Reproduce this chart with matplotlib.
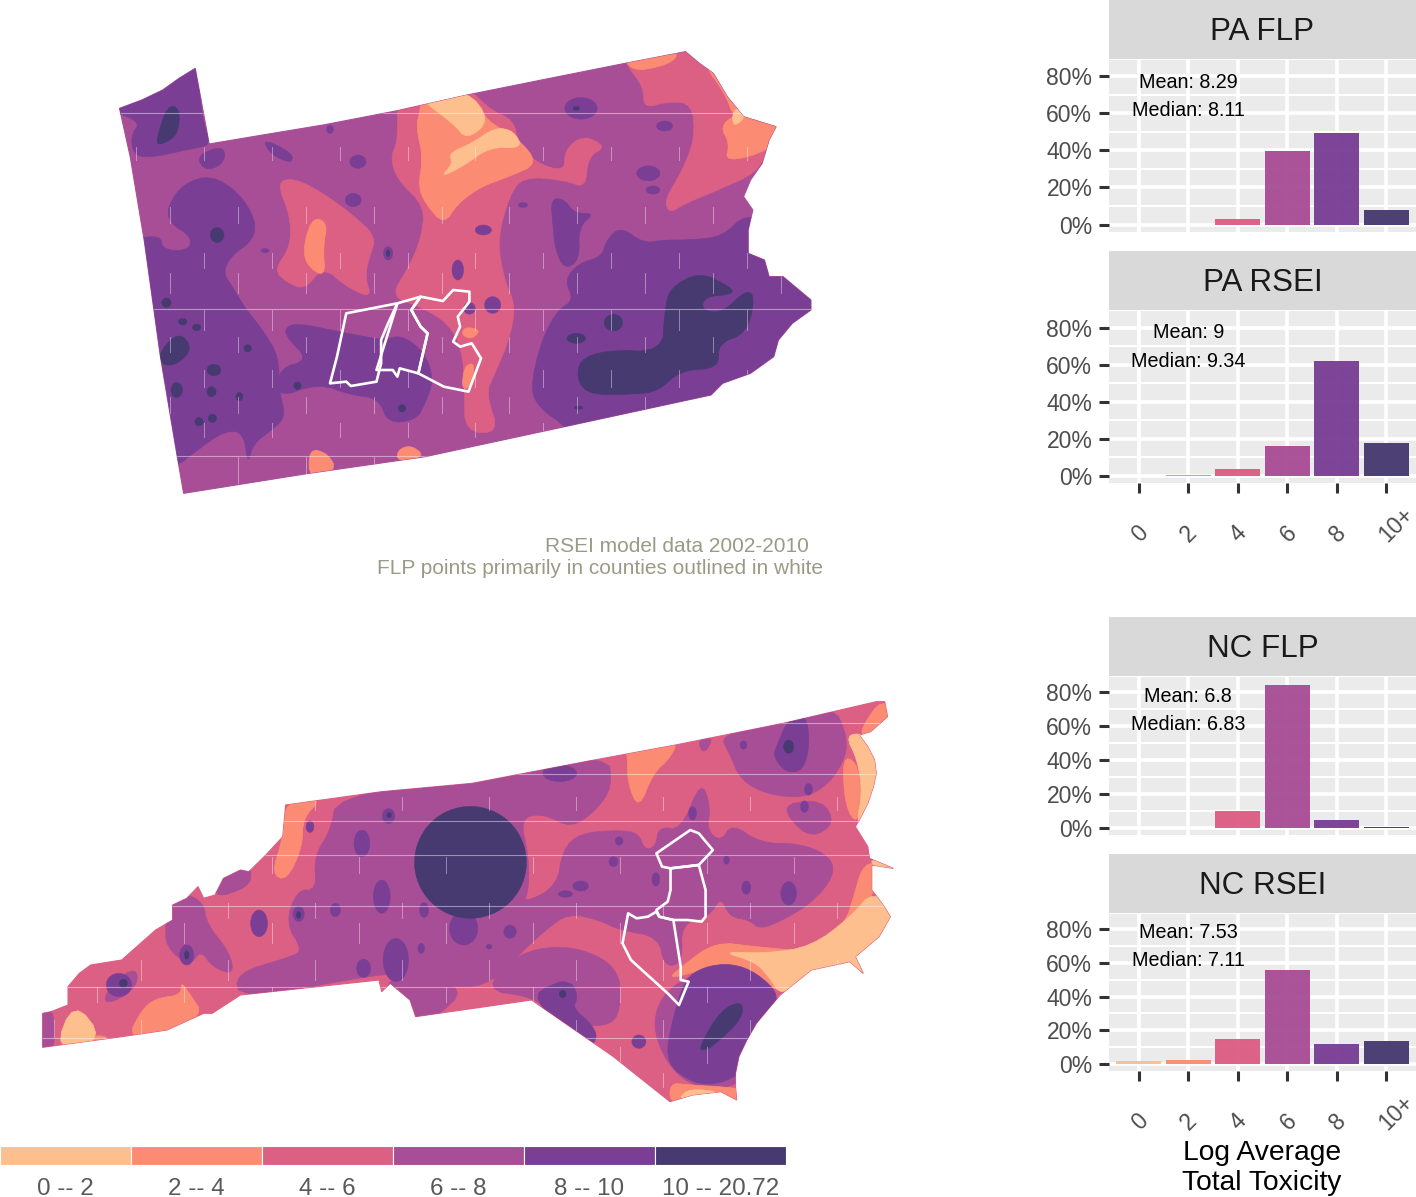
import matplotlib
matplotlib.use("Agg")
import matplotlib.pyplot as plt
from matplotlib.patches import Polygon, Ellipse

plt.rcParams["font.family"] = ["Liberation Sans", "DejaVu Sans"]

W = 1416
H = 1197

# colours of the six classes
c0 = "#FDBF8D"
c2 = "#FB8C73"
c4 = "#DC5F84"
c6 = "#A84E96"
c8 = "#7A3F95"
c10 = "#473A71"
class_colors = [c0, c2, c4, c6, c8, c10]
class_labels = ["0 -- 2", "2 -- 4", "4 -- 6", "6 -- 8", "8 -- 10", "10 -- 20.72"]

# histogram data
bin_labels = ["0", "2", "4", "6", "8", "10+"]
pa_flp = [0, 0, 3.2, 39.5, 49.5, 8]
pa_rsei = [0, 0.4, 4, 16, 62, 18]
nc_flp = [0, 0.2, 10, 84, 5, 0.5]
nc_rsei = [1.5, 2.5, 15, 56, 12, 13.5]
y_ticks = [0, 20, 40, 60, 80]
y_labels = ["0%", "20%", "40%", "60%", "80%"]

# map shapes, in map units
pa_outline = [(42,205),(90,180),(135,150),(170,115),(205,85),(235,312),(350,285),(480,255),(640,212),(790,165),(950,120),(1130,70),(1260,35),(1290,70),(1320,100),(1350,170),(1385,230),(1420,245),(1455,260),(1440,300),(1425,370),(1400,420),(1385,470),(1405,510),(1395,570),(1395,640),(1430,660),(1440,710),(1470,710),(1500,745),(1530,780),(1530,810),(1490,850),(1460,900),(1450,950),(1400,1000),(1340,1030),(1315,1065),(1000,1160),(700,1250),(450,1300),(180,1360),(165,1240),(130,950),(95,600),(65,350)]

pa_c4 = [
    [(1130,70),(1130,10),(1300,-10),(1500,200),(1500,340),(1430,350),(1410,400),(1330,450),(1260,490),(1225,520),(1215,480),(1250,400),(1280,300),(1275,190),(1220,185),(1170,205),(1170,140)],
    [(640,215),(640,150),(790,140),(840,210),(890,240),(900,310),(940,370),(1000,395),(1000,330),(1040,285),(1090,320),(1050,350),(1045,445),(1000,420),(910,410),(880,470),(855,600),(870,720),(895,800),(880,900),(850,1000),(830,1060),(860,1180),(785,1175),(785,1055),(780,930),(750,850),(690,800),(625,770),(665,680),(690,600),(700,500),(640,420),(625,350),(640,310)],
    [(380,425),(420,415),(480,460),(540,520),(595,590),(580,650),(570,710),(585,775),(530,740),(480,680),(440,750),(400,725),(375,690),(410,620),(410,530)],
]
pa_c2 = [
    [(690,205),(690,170),(790,150),(830,235),(860,265),(895,290),(945,370),(880,410),(820,440),(770,490),(740,555),(700,490),(685,440),(695,350),(680,260)],
    [(1130,70),(1130,30),(1240,20),(1240,65),(1160,95)],
    [(1335,260),(1365,225),(1400,230),(1480,250),(1445,330),(1345,368),(1355,310)],
    [(1300,75),(1330,85),(1360,170),(1395,230),(1365,235),(1345,160)],
    [(460,530),(490,550),(480,620),(485,715),(440,670),(440,600)],
    [(450,1225),(490,1240),(510,1290),(450,1320)],
    [(640,1230),(670,1215),(700,1250),(640,1265)],
    [(785,860),(820,870),(800,898),(778,885)],
    [(785,975),(808,970),(795,1045),(778,1045)],
]
pa_c0 = [
    [(700,190),(700,170),(790,150),(840,240),(790,300),(760,250)],
    [(750,340),(800,310),(850,262),(890,272),(910,325),(840,320),(780,380),(732,412),(760,370)],
    [(1360,230),(1370,200),(1390,230),(1365,260)],
]
pa_c8 = [
    [(-20,200),(60,100),(210,40),(218,230),(240,315),(200,325),(120,350),(75,350),(65,290),(90,240)],
    [(145,500),(180,430),(240,405),(300,460),(335,540),(330,600),(280,650),(265,700),(285,740),(310,800),(350,870),(385,950),(385,1050),(400,1130),(370,1170),(330,1210),(318,1275),(310,1180),(270,1170),(200,1240),(165,1280),(80,1280),(60,600),(130,585),(135,630),(190,632),(198,590),(150,550)],
    [(400,860),(430,850),(530,880),(610,900),(650,885),(700,940),(718,1020),(700,1090),(680,1140),(620,1150),(600,1075),(540,1065),(470,1030),(380,1075),(385,985),(450,960),(400,890)],
    [(1090,600),(1120,560),(1170,610),(1210,600),(1270,600),(1340,590),(1390,520),(1450,560),(1620,700),(1620,900),(1500,1100),(1300,1150),(1010,1200),(1000,1155),(950,1110),(925,1050),(950,900),(985,810),(1020,780),(1000,720),(1030,670),(1080,650)],
    [(970,475),(1000,478),(1020,520),(1065,520),(1030,560),(1032,660),(1000,688),(980,630),(975,560)],
    [(350,295),(415,340),(412,372),(365,340)],
    [(205,350),(265,315),(270,365),(230,395)],
]
pa_c10 = [
    [(1030,960),(1090,930),(1210,935),(1215,820),(1225,745),(1290,695),(1355,740),(1365,762),(1300,770),(1295,812),(1340,818),(1390,750),(1410,770),(1392,880),(1330,910),(1332,985),(1250,990),(1200,1055),(1150,1062),(1060,1065),(1028,1030)],
    [(120,305),(145,195),(172,205),(168,285),(130,315)],
    [(128,935),(170,875),(200,925),(165,975),(132,975)],
]
pa_spots_c8 = [(555,365,35,40),(545,480,35,40),(1215,258,35,30),(1180,400,50,45),(1190,450,30,25),(620,640,20,40),(825,570,35,30),(770,690,25,60),(845,795,35,50),(795,805,25,35),(910,495,20,15),(495,268,15,25),(355,632,18,12),(1035,205,70,65)]
pa_spots_c10 = [(252,585,30,45),(245,990,30,35),(165,1050,25,45),(240,1055,20,30),(300,1070,15,25),(213,1145,18,25),(242,1135,18,25),(318,925,16,22),(178,845,18,20),(208,862,18,20),(143,788,20,28),(425,1037,16,22),(650,1105,16,22),(1105,848,40,50),(1025,895,40,30),(1030,1103,18,10),(1025,205,14,12),(620,640,8,20)]
pa_counties = [
    [(530,820),(640,790),(620,850),(605,900),(605,970),(595,1025),(540,1038),(530,1025),(495,1030),(510,950)],
    [(640,790),(690,770),(670,810),(690,860),(705,880),(685,1000),(645,985),(640,1010),(630,990),(595,990)],
    [(690,770),(738,783),(760,750),(795,755),(795,785),(770,830),(775,860),(760,905),(775,920),(800,910),(820,955),(793,1055),(740,1040),(685,1000),(705,880),(690,860),(670,810)],
]
pa_seams_h = [220, 808, 1248]

nc_outline = [(40,970),(55,965),(85,945),(85,890),(105,850),(125,825),(180,810),(240,720),(270,690),(270,645),(295,625),(315,590),(325,625),(345,615),(360,565),(390,540),(405,545),(435,495),(465,440),(470,345),(640,305),(800,280),(1000,215),(1160,165),(1350,100),(1515,35),(1530,35),(1535,80),(1505,125),(1485,135),(1500,170),(1512,210),(1515,250),(1510,290),(1500,340),(1485,390),(1478,410),(1500,470),(1503,505),(1545,535),(1507,525),(1507,600),(1525,640),(1540,680),(1520,740),(1478,800),(1492,850),(1468,815),(1400,840),(1345,915),(1325,955),(1303,1000),(1286,1050),(1272,1100),(1266,1150),(1266,1190),(1268,1230),(1240,1205),(1190,1215),(1150,1235),(1050,1100),(905,930),(700,980),(690,930),(655,880),(640,905),(635,870),(390,915),(340,970),(325,970),(260,1020),(180,1040),(40,1072)]

nc_c6 = [
    [(560,320),(800,260),(1040,190),(1048,290),(1020,360),(975,415),(925,370),(885,385),(900,500),(900,600),(890,640),(950,590),(960,480),(990,430),(1060,420),(1095,430),(1105,480),(1125,470),(1130,410),(1170,420),(1205,270),(1222,350),(1215,420),(1240,455),(1260,400),(1310,460),(1380,460),(1435,500),(1440,560),(1400,640),(1350,690),(1310,718),(1290,690),(1255,680),(1240,620),(1220,680),(1170,700),(1172,820),(1140,830),(1130,740),(1060,720),(1025,690),(970,670),(930,720),(885,790),(850,860),(790,900),(700,860),(660,860),(640,850),(390,930),(380,850),(480,800),(500,780),(470,700),(490,600),(525,600),(520,500),(550,420)],
    [(640,880),(700,850),(790,895),(735,985),(695,1000),(680,930)],
    [(820,900),(880,790),(960,765),(1030,800),(1062,860),(1062,950),(1050,1000),(1010,1010),(950,975),(905,920)],
    [(350,570),(400,525),(410,545),(405,590),(345,625)],
    [(260,645),(295,610),(325,640),(330,700),(372,790),(378,855),(340,830),(320,780),(300,830),(258,770),(258,700)],
    [(145,930),(175,860),(207,835),(207,890),(165,938)],
    [(1238,135),(1350,85),(1440,50),(1462,130),(1462,200),(1430,285),(1385,325),(1320,312),(1275,270),(1255,190)],
    [(1355,340),(1420,330),(1442,400),(1400,445),(1360,385)],
    [(1198,150),(1228,140),(1210,195)],
    [(1117,1000),(1145,890),(1235,825),(1295,835),(1347,920),(1315,1000),(1285,1100),(1275,1190),(1195,1195),(1145,1125)],
    [(25,950),(60,950),(62,1090),(25,1090)],
]
nc_c8 = [
    [(1153,1000),(1175,870),(1210,830),(1260,820),(1305,850),(1347,920),(1315,1000),(1285,1100),(1273,1158),(1215,1190),(1165,1155),(1143,1100)],
    [(905,925),(940,880),(985,878),(975,950),(1010,1000),(1022,1040),(1010,1070),(980,1040)],
    [(1338,170),(1360,85),(1392,75),(1397,170),(1385,242),(1355,248),(1333,200)],
]
nc_c2 = [
    [(470,330),(535,325),(500,385),(500,470),(472,572),(445,552),(465,445)],
    [(1075,195),(1070,170),(1165,150),(1150,205),(1120,250),(1095,358),(1075,280)],
    [(190,1045),(215,960),(240,925),(285,915),(285,875),(300,910),(325,975),(260,1030)],
    [(1145,870),(1170,830),(1230,755),(1300,770),(1400,785),(1460,700),(1475,620),(1490,530),(1515,515),(1515,600),(1480,680),(1420,770),(1347,925),(1295,835),(1235,825)],
    [(1455,200),(1480,215),(1488,300),(1482,405),(1460,350)],
    [(1490,110),(1525,25),(1550,80),(1510,135),(1490,138)],
    [(1150,1240),(1150,1178),(1185,1185),(1240,1190),(1280,1198),(1280,1240),(1240,1210),(1185,1225)],
    [(100,1045),(140,1035),(160,1045),(100,1060)],
]
nc_c0 = [
    [(1240,785),(1320,790),(1400,770),(1470,680),(1510,600),(1560,680),(1530,745),(1485,800),(1500,855),(1470,825),(1400,850),(1347,920),(1325,860),(1300,815)],
    [(1460,135),(1495,130),(1525,210),(1525,290),(1495,395),(1480,402),(1490,310),(1482,210)],
    [(1505,505),(1560,538),(1510,530)],
    [(60,1085),(95,930),(150,1050)],
    [(1165,1225),(1185,1195),(1245,1208),(1185,1225)],
]
nc_c2_spots = [(1435,790,35,55),(1338,820,18,45),(1490,672,20,40)]
nc_spots_c8 = [(605,460,28,80),(640,620,30,100),(652,378,22,45),(513,410,14,35),(493,672,20,45),(558,660,18,40),(715,660,16,45),(867,725,22,40),(785,715,50,100),(710,775,12,30),(608,835,25,55),(665,810,45,130),(965,612,25,20),(992,588,28,30),(1050,515,16,30),(1060,453,14,25),(1125,568,14,40),(1190,370,14,40),(1285,593,16,40),(1360,610,28,70),(1250,510,10,25),(1280,165,12,25),(1395,298,14,35),(1388,350,14,35),(423,700,30,80),(295,795,25,60),(175,885,45,70),(955,250,60,50),(830,770,10,15),(1095,1055,25,40),(960,920,50,90)]
nc_spots_c10 = [(797,517,198,336),(1360,170,18,40),(653,375,8,15),(493,675,8,20),(295,795,8,25),(183,880,14,25),(960,912,12,22)]
nc_c10 = [[(1200,1075),(1240,960),(1278,932),(1278,985),(1235,1055),(1213,1082)]]
nc_counties = [
    [(1126,490),(1186,420),(1201,430),(1226,480),(1201,525),(1151,535),(1136,530)],
    [(1151,535),(1201,525),(1213,600),(1213,680),(1206,695),(1181,690),(1156,690),(1131,680),(1126,660),(1146,635),(1151,600)],
    [(1126,665),(1131,680),(1156,690),(1169,830),(1169,870),(1183,875),(1166,945),(1146,910),(1081,810),(1066,760),(1076,670),(1091,685),(1111,680)],
]
nc_seams_h = [100, 252, 393, 496, 648, 892, 1045]


def smooth(points, rounds=2):
    # corner cutting, so the contour bands do not look like straight pieces
    for _ in range(rounds):
        new = []
        for i in range(len(points)):
            x0, y0 = points[i]
            x1, y1 = points[(i + 1) % len(points)]
            new.append((0.75 * x0 + 0.25 * x1, 0.75 * y0 + 0.25 * y1))
            new.append((0.25 * x0 + 0.75 * x1, 0.25 * y0 + 0.75 * y1))
        points = new
    return points


def px_axes(fig, left, top, right, bottom):
    return fig.add_axes([left / W, 1 - bottom / H, (right - left) / W, (bottom - top) / H])


def draw_map(ax, outline, layers, counties, seams_h, seam_xs, base):
    clip = Polygon(outline, closed=True, fc=base, ec=base, lw=0.8)
    ax.add_patch(clip)
    for color, polys, spots in layers:
        for p in polys:
            patch = Polygon(smooth(p), closed=True, fc=color, ec=color, lw=0.5)
            ax.add_patch(patch)
            patch.set_clip_path(clip)
        for cx, cy, w, h in spots:
            patch = Ellipse((cx, cy), w, h, fc=color, ec=color, lw=0.3)
            ax.add_patch(patch)
            patch.set_clip_path(clip)
    # thin tile seams that show in the raster
    for y in seams_h:
        line = ax.axhline(y, color="white", lw=0.8, alpha=0.45)
        line.set_clip_path(clip)
    dashes = [(320, 360), (500, 550), (640, 685), (700, 760), (810, 870), (890, 935), (990, 1040), (1070, 1120), (1150, 1190), (1250, 1330)]
    for i, x in enumerate(seam_xs):
        for j, (y0, y1) in enumerate(dashes):
            if (i + j) % 2 == 0:
                line, = ax.plot([x, x], [y0, y1], color="white", lw=0.7, alpha=0.4)
                line.set_clip_path(clip)
    for county in counties:
        ax.add_patch(Polygon(county, closed=True, fc="none", ec="white", lw=1.9, joinstyle="round"))


fig = plt.figure(figsize=(W / 100, H / 100), dpi=100)

ax_pa = px_axes(fig, 100, 40, 830, 510)
ax_pa.set_xlim(0, 1571)
ax_pa.set_ylim(1410, 0)
ax_pa.axis("off")
draw_map(ax_pa, pa_outline,
         [(c4, pa_c4, []), (c2, pa_c2, []), (c0, pa_c0, []),
          (c8, pa_c8, pa_spots_c8), (c10, pa_c10, pa_spots_c10)],
         pa_counties, pa_seams_h, list(range(78, 1500, 73)), c6)

ax_nc = px_axes(fig, 20, 690, 900, 1110)
ax_nc.set_xlim(0, 1557)
ax_nc.set_ylim(1260, 0)
ax_nc.axis("off")
draw_map(ax_nc, nc_outline,
         [(c6, nc_c6, []), (c2, nc_c2, nc_c2_spots), (c0, nc_c0, []),
          (c8, nc_c8, nc_spots_c8), (c10, nc_c10, nc_spots_c10)],
         nc_counties, nc_seams_h, list(range(60, 1520, 77)), c4)

# histogram panels: title, values, mean, median, strip top, panel top, panel bottom, zero row, 80% row, mean row, median row, x axis
panels = [
    ("PA FLP", pa_flp, "Mean: 8.29", "Median: 8.11", 0, 60, 232, 224.5, 76, 82, 110, False),
    ("PA RSEI", pa_rsei, "Mean: 9", "Median: 9.34", 251, 311, 483, 476, 328, 333, 362, True),
    ("NC FLP", nc_flp, "Mean: 6.8", "Median: 6.83", 617, 677, 835, 828, 692, 696, 724, False),
    ("NC RSEI", nc_rsei, "Mean: 7.53", "Median: 7.11", 854, 914, 1071, 1064, 929, 933, 961, True),
]
for title, vals, mean, median, s_top, p_top, p_bot, y0, y80, mean_row, median_row, show_x in panels:
    strip = px_axes(fig, 1109, s_top, 1416, s_top + 59)
    strip.set_facecolor("#D9D9D9")
    strip.set_xticks([])
    strip.set_yticks([])
    for s in strip.spines.values():
        s.set_visible(False)
    strip.text(0.5, 0.46, title, transform=strip.transAxes, ha="center", va="center",
               fontsize=22.6, color="#1A1A1A")

    ax = px_axes(fig, 1109, p_top, 1416, p_bot)
    per = (y0 - y80) / 80
    bottom = -(p_bot - y0) / per
    ax.set_facecolor("#EBEBEB")
    ax.set_xlim(-0.6, 5.6)
    ax.set_ylim(bottom, (y0 - p_top) / per)
    ax.set_axisbelow(True)
    ax.grid(True, which="major", color="white", lw=2.6)
    ax.set_yticks(y_ticks)
    ax.set_yticks([10, 30, 50, 70], minor=True)
    ax.grid(True, axis="y", which="minor", color="white", lw=1.5)
    ax.tick_params(axis="y", which="minor", length=0)
    ax.set_yticklabels(y_labels)
    ax.tick_params(axis="y", which="major", length=7, width=2.2, color="#333333",
                   labelsize=16.5, labelcolor="#4D4D4D", pad=5)
    ax.bar(range(6), vals, width=0.9, color=class_colors, alpha=0.97)
    ax.set_xticks(range(6))
    if show_x:
        ax.tick_params(axis="x", length=7, width=2.2, color="#333333", labelbottom=False)
        for i, lab in enumerate(bin_labels):
            ax.annotate(lab, (i, bottom), xytext=(-2.5, -40), textcoords="offset points",
                        rotation=45, rotation_mode="anchor", ha="left", va="center",
                        fontsize=16.5, color="#4D4D4D", annotation_clip=False)
    else:
        ax.tick_params(axis="x", length=0, labelbottom=False)
    for s in ax.spines.values():
        s.set_visible(False)
    ax.text(1, (y0 - mean_row) / per, mean, ha="center", va="center", fontsize=14.2, color="black")
    ax.text(1, (y0 - median_row) / per, median, ha="center", va="center", fontsize=14.2, color="black")

fig.text(1262 / W, 1 - 1153 / H, "Log Average", ha="center", va="center", fontsize=20.3, color="black")
fig.text(1262 / W, 1 - 1183 / H, "Total Toxicity", ha="center", va="center", fontsize=20.3, color="black")

fig.text(809 / W, 1 - 546 / H, "RSEI model data 2002-2010", ha="right", va="center", fontsize=15, color="#9B9A87")
fig.text(823 / W, 1 - 569 / H, "FLP points primarily in counties outlined in white", ha="right", va="center", fontsize=15, color="#9B9A87")

# colour key
ax_key = px_axes(fig, 0, 1146, 786, 1165)
ax_key.bar(range(6), [1] * 6, width=1, align="edge", color=class_colors, edgecolor="white", lw=0.8)
ax_key.set_xlim(0, 6)
ax_key.set_ylim(0, 1)
ax_key.axis("off")
for i, lab in enumerate(class_labels):
    ax_key.annotate(lab, (i + 0.5, 0), xytext=(0, -17), textcoords="offset points",
                    ha="center", va="center", fontsize=17.4, color="#595959", annotation_clip=False)

fig.savefig("out.png", dpi=100)
